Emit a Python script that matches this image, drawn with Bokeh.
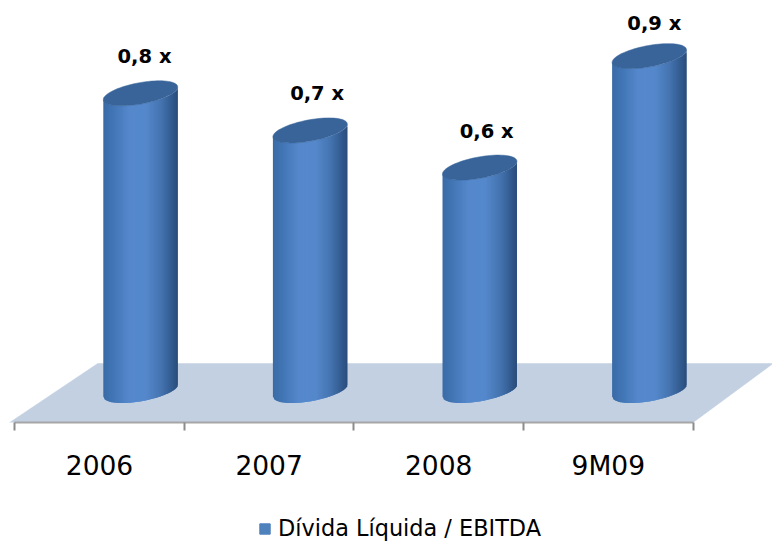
import numpy as np
from bokeh.embed import file_html
from bokeh.resources import INLINE
from bokeh.plotting import figure
from bokeh.layouts import column
from bokeh.models import Range1d, LinearAxis, FixedTicker, Legend, LegendItem
from bokeh.core.properties import value

categories = ["2006", "2007", "2008", "9M09"]
series_name = "Dívida Líquida / EBITDA"
values = [0.80, 0.70, 0.60, 0.90]
value_labels = ["0,8 x", "0,7 x", "0,6 x", "0,9 x"]

# layout (screen px, style only)
W, H = 772, 541
TOP_H = 484
FRAME_H = 422
BASE_PX = 390          # pixel row of value 0 (centre of bar bases)
PX_PER_VALUE = 371.5
CAT0_PX, CAT_STEP = 99.0, 169.6
BAR_DX = 41.0          # 3D depth offset of bars to the right
BAR_A, BAR_B, BAR_SHEAR = 37.2, 10.8, 0.17
LABEL_DX = [4, 7, 7, 5]
LABEL_DY = [37, 37, 36, 33]

x_range = Range1d(-CAT0_PX / CAT_STEP, (W - CAT0_PX) / CAT_STEP)
y_range = Range1d((BASE_PX - FRAME_H) / PX_PER_VALUE, BASE_PX / PX_PER_VALUE)
dx = lambda px: px / CAT_STEP
dy = lambda px: px / PX_PER_VALUE

p = figure(width=W, height=TOP_H, x_range=x_range, y_range=y_range,
           output_backend="svg", toolbar_location=None, x_axis_location=None, y_axis_location=None,
           min_border=0, min_border_bottom=TOP_H - FRAME_H, outline_line_color=None,
           background_fill_color="white", border_fill_color="white")
p.grid.visible = False

# floor
fl = dx(88)
fl_x0, fl_x1 = -0.5 - dx(5), len(categories) - 0.5
p.patch([fl_x0, fl_x1, fl_x1 + fl + dx(-8), fl_x0 + fl],
        [y_range.start, y_range.start, dy(BASE_PX - 363), dy(BASE_PX - 363)],
        fill_color="#c3d0e2", line_color="#c3d0e2", line_width=0.5)

# bars
stops_u = [-1.0, -0.75, -0.3, 0.15, 0.55, 0.85, 1.0]
stops_c = np.array([[0x3a, 0x6b, 0xa6], [0x41, 0x75, 0xb4], [0x55, 0x88, 0xcc],
                    [0x55, 0x88, 0xcc], [0x45, 0x74, 0xb0], [0x32, 0x5a, 0x8e], [0x2a, 0x4d, 0x7a]])
N = 75
us = np.linspace(-1, 1, N + 1)
xs, ys, cols = [], [], []
for i, v in enumerate(values):
    cx = i + dx(BAR_DX)
    for a, b in zip(us[:-1], us[1:]):
        xa, xb = cx + dx(BAR_A * a), cx + dx(BAR_A * b + 1.0 * (b < 1))
        fa = lambda u, y0, sign: y0 + dy(BAR_A * u * BAR_SHEAR) + sign * dy(BAR_B * np.sqrt(max(1 - u * u, 0)))
        xs.append([xa, xb, xb, xa])
        ys.append([fa(a, 0, -1), fa(b, 0, -1), fa(b, v, -1), fa(a, v, -1)])
        m = (a + b) / 2
        c = [int(round(np.interp(m, stops_u, stops_c[:, k]))) for k in range(3)]
        cols.append("#%02x%02x%02x" % tuple(c))
p.patches(xs, ys, fill_color=cols, line_color=None)

t = np.linspace(0, 2 * np.pi, 80)
top_x, top_y = [], []
for i, v in enumerate(values):
    cx = i + dx(BAR_DX)
    top_x.append(list(cx + dx(BAR_A * np.cos(t))))
    top_y.append(list(v + dy(BAR_A * np.cos(t) * BAR_SHEAR) + dy(BAR_B * np.sin(t))))
p.patches(top_x, top_y, fill_color="#38649a", line_color="#38649a", line_width=0.5)

# value labels
for i, v in enumerate(values):
    p.text([i + dx(BAR_DX + LABEL_DX[i])], [v], text=[value_labels[i]], y_offset=-LABEL_DY[i],
           text_align="center", text_baseline="middle", text_color="black",
           text_font=value("DejaVu Sans"), text_font_style="bold", text_font_size="19.5px")

# category axis
ax = LinearAxis(ticker=FixedTicker(ticks=list(range(len(categories))),
                                   minor_ticks=[k - 0.5 for k in range(len(categories) + 1)]),
                major_label_overrides={k: c for k, c in enumerate(categories)},
                bounds=(-0.5, len(categories) - 0.5))
ax.axis_line_color = "#a6a6a6"
ax.axis_line_width = 2
ax.major_tick_line_color = None
ax.minor_tick_line_color = "#8c8c8c"
ax.minor_tick_line_width = 2
ax.minor_tick_out = 8
ax.minor_tick_in = 0
ax.major_label_text_font = "DejaVu Sans"
ax.major_label_text_font_size = "26.5px"
ax.major_label_text_color = "black"
ax.major_label_standoff = 19
p.add_layout(ax, "below")

# legend strip under the chart
p2 = figure(width=W, height=H - TOP_H, x_range=(0, 1), y_range=(0, 1), output_backend="svg",
            toolbar_location=None, x_axis_location=None, y_axis_location=None, min_border=0,
            outline_line_color=None, background_fill_color="white", border_fill_color="white")
p2.grid.visible = False
key = p2.quad(left=[2], right=[3], bottom=[2], top=[3], fill_color="#4f81bd", line_color="#4f81bd")
leg = Legend(items=[LegendItem(label=series_name, renderers=[key])], orientation="horizontal",
             border_line_color=None, background_fill_alpha=0, label_text_font="DejaVu Sans",
             label_text_font_size="22.4px", label_text_color="black", glyph_width=13, glyph_height=13,
             label_standoff=7, margin=0, padding=0, location=(258, 0), spacing=0)
p2.add_layout(leg)

open("out.html", "w").write(file_html(column(p, p2, spacing=0), INLINE))
